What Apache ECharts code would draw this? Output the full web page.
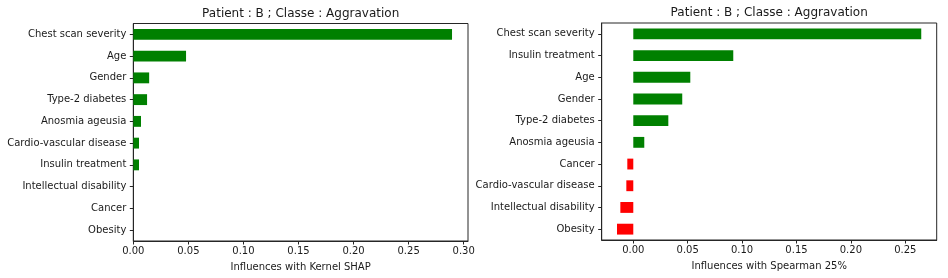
<!DOCTYPE html>
<html>
<head>
<meta charset="utf-8">
<script src="https://cdn.jsdelivr.net/npm/echarts@6/dist/echarts.min.js"></script>
<style>
html,body{margin:0;padding:0;background:#fff;}
#chart{width:948px;height:278px;}
</style>
</head>
<body>
<div id="chart"></div>
<script>
// Left chart: Kernel SHAP (top to bottom)
const shapCategories = ['Chest scan severity','Age','Gender','Type-2 diabetes','Anosmia ageusia','Cardio-vascular disease','Insulin treatment','Intellectual disability','Cancer','Obesity'];
const shapValues = [0.2894, 0.0479, 0.0144, 0.0125, 0.0070, 0.0052, 0.0052, 0, 0, 0];

// Right chart: Spearman 25% (top to bottom)
const spearCategories = ['Chest scan severity','Insulin treatment','Age','Gender','Type-2 diabetes','Anosmia ageusia','Cancer','Cardio-vascular disease','Intellectual disability','Obesity'];
const spearValues = [0.2647, 0.0919, 0.0524, 0.0450, 0.0322, 0.0101, -0.0055, -0.0064, -0.0119, -0.0150];

const shapTicks = [0.00, 0.05, 0.10, 0.15, 0.20, 0.25, 0.30];
const spearTicks = [0.00, 0.05, 0.10, 0.15, 0.20, 0.25];

const titleText = 'Patient : B ; Classe : Aggravation';
const shapAxisName = 'Influences with Kernel SHAP';
const spearAxisName = 'Influences with Spearman 25%';

const FONT = 'DejaVu Sans';
const TXT = '#1a1a1a';
const LINE = '#262626';

function xAxisCfg(gridIndex, min, max, ticks, name) {
  return {
    type: 'value', gridIndex, min, max,
    name, nameLocation: 'middle', nameGap: 21.5,
    nameTextStyle: {fontFamily: FONT, fontSize: 10, color: TXT},
    axisLine: {show: true, onZero: false, lineStyle: {color: LINE, width: 1}},
    axisTick: {show: true, length: 3.5, lineStyle: {color: LINE}, customValues: ticks},
    axisLabel: {show: true, margin: 5, fontFamily: FONT, fontSize: 10, color: TXT,
      customValues: ticks, formatter: v => Number(v).toFixed(2)},
    splitLine: {show: false}
  };
}
function yAxisCfg(gridIndex, cats) {
  return {
    type: 'category', gridIndex, data: cats, inverse: true,
    axisLine: {show: true, onZero: false, lineStyle: {color: LINE, width: 1}},
    axisTick: {show: true, alignWithLabel: true, length: 3.5, lineStyle: {color: LINE}},
    axisLabel: {margin: 7, fontFamily: FONT, fontSize: 10, color: TXT},
    splitLine: {show: false}
  };
}

const chart = echarts.init(document.getElementById('chart'), null, {renderer: 'canvas'});
chart.setOption({
  backgroundColor: '#fff',
  animation: false,
  title: [
    {text: titleText, left: 300.7, top: 8, padding: 0, textAlign: 'center',
     textStyle: {fontFamily: FONT, fontSize: 12, fontWeight: 'normal', color: TXT}},
    {text: titleText, left: 769.2, top: 7, padding: 0, textAlign: 'center',
     textStyle: {fontFamily: FONT, fontSize: 12, fontWeight: 'normal', color: TXT}}
  ],
  grid: [
    {left: 133.3, top: 23.5, width: 334.7, height: 217.5, show: true, borderColor: LINE, borderWidth: 1, backgroundColor: 'transparent', containLabel: false},
    {left: 601.7, top: 23, width: 335, height: 217, show: true, borderColor: LINE, borderWidth: 1, backgroundColor: 'transparent', containLabel: false}
  ],
  xAxis: [
    xAxisCfg(0, 0, 0.3039, shapTicks, shapAxisName),
    xAxisCfg(1, -0.02904, 0.2789, spearTicks, spearAxisName)
  ],
  yAxis: [
    yAxisCfg(0, shapCategories),
    yAxisCfg(1, spearCategories)
  ],
  series: [
    {type: 'bar', xAxisIndex: 0, yAxisIndex: 0, data: shapValues, barWidth: '50%',
     itemStyle: {color: '#008000'}},
    {type: 'bar', xAxisIndex: 1, yAxisIndex: 1, data: spearValues, barWidth: '50%',
     itemStyle: {color: p => p.value < 0 ? '#ff0000' : '#008000'}}
  ]
});
</script>
</body>
</html>
